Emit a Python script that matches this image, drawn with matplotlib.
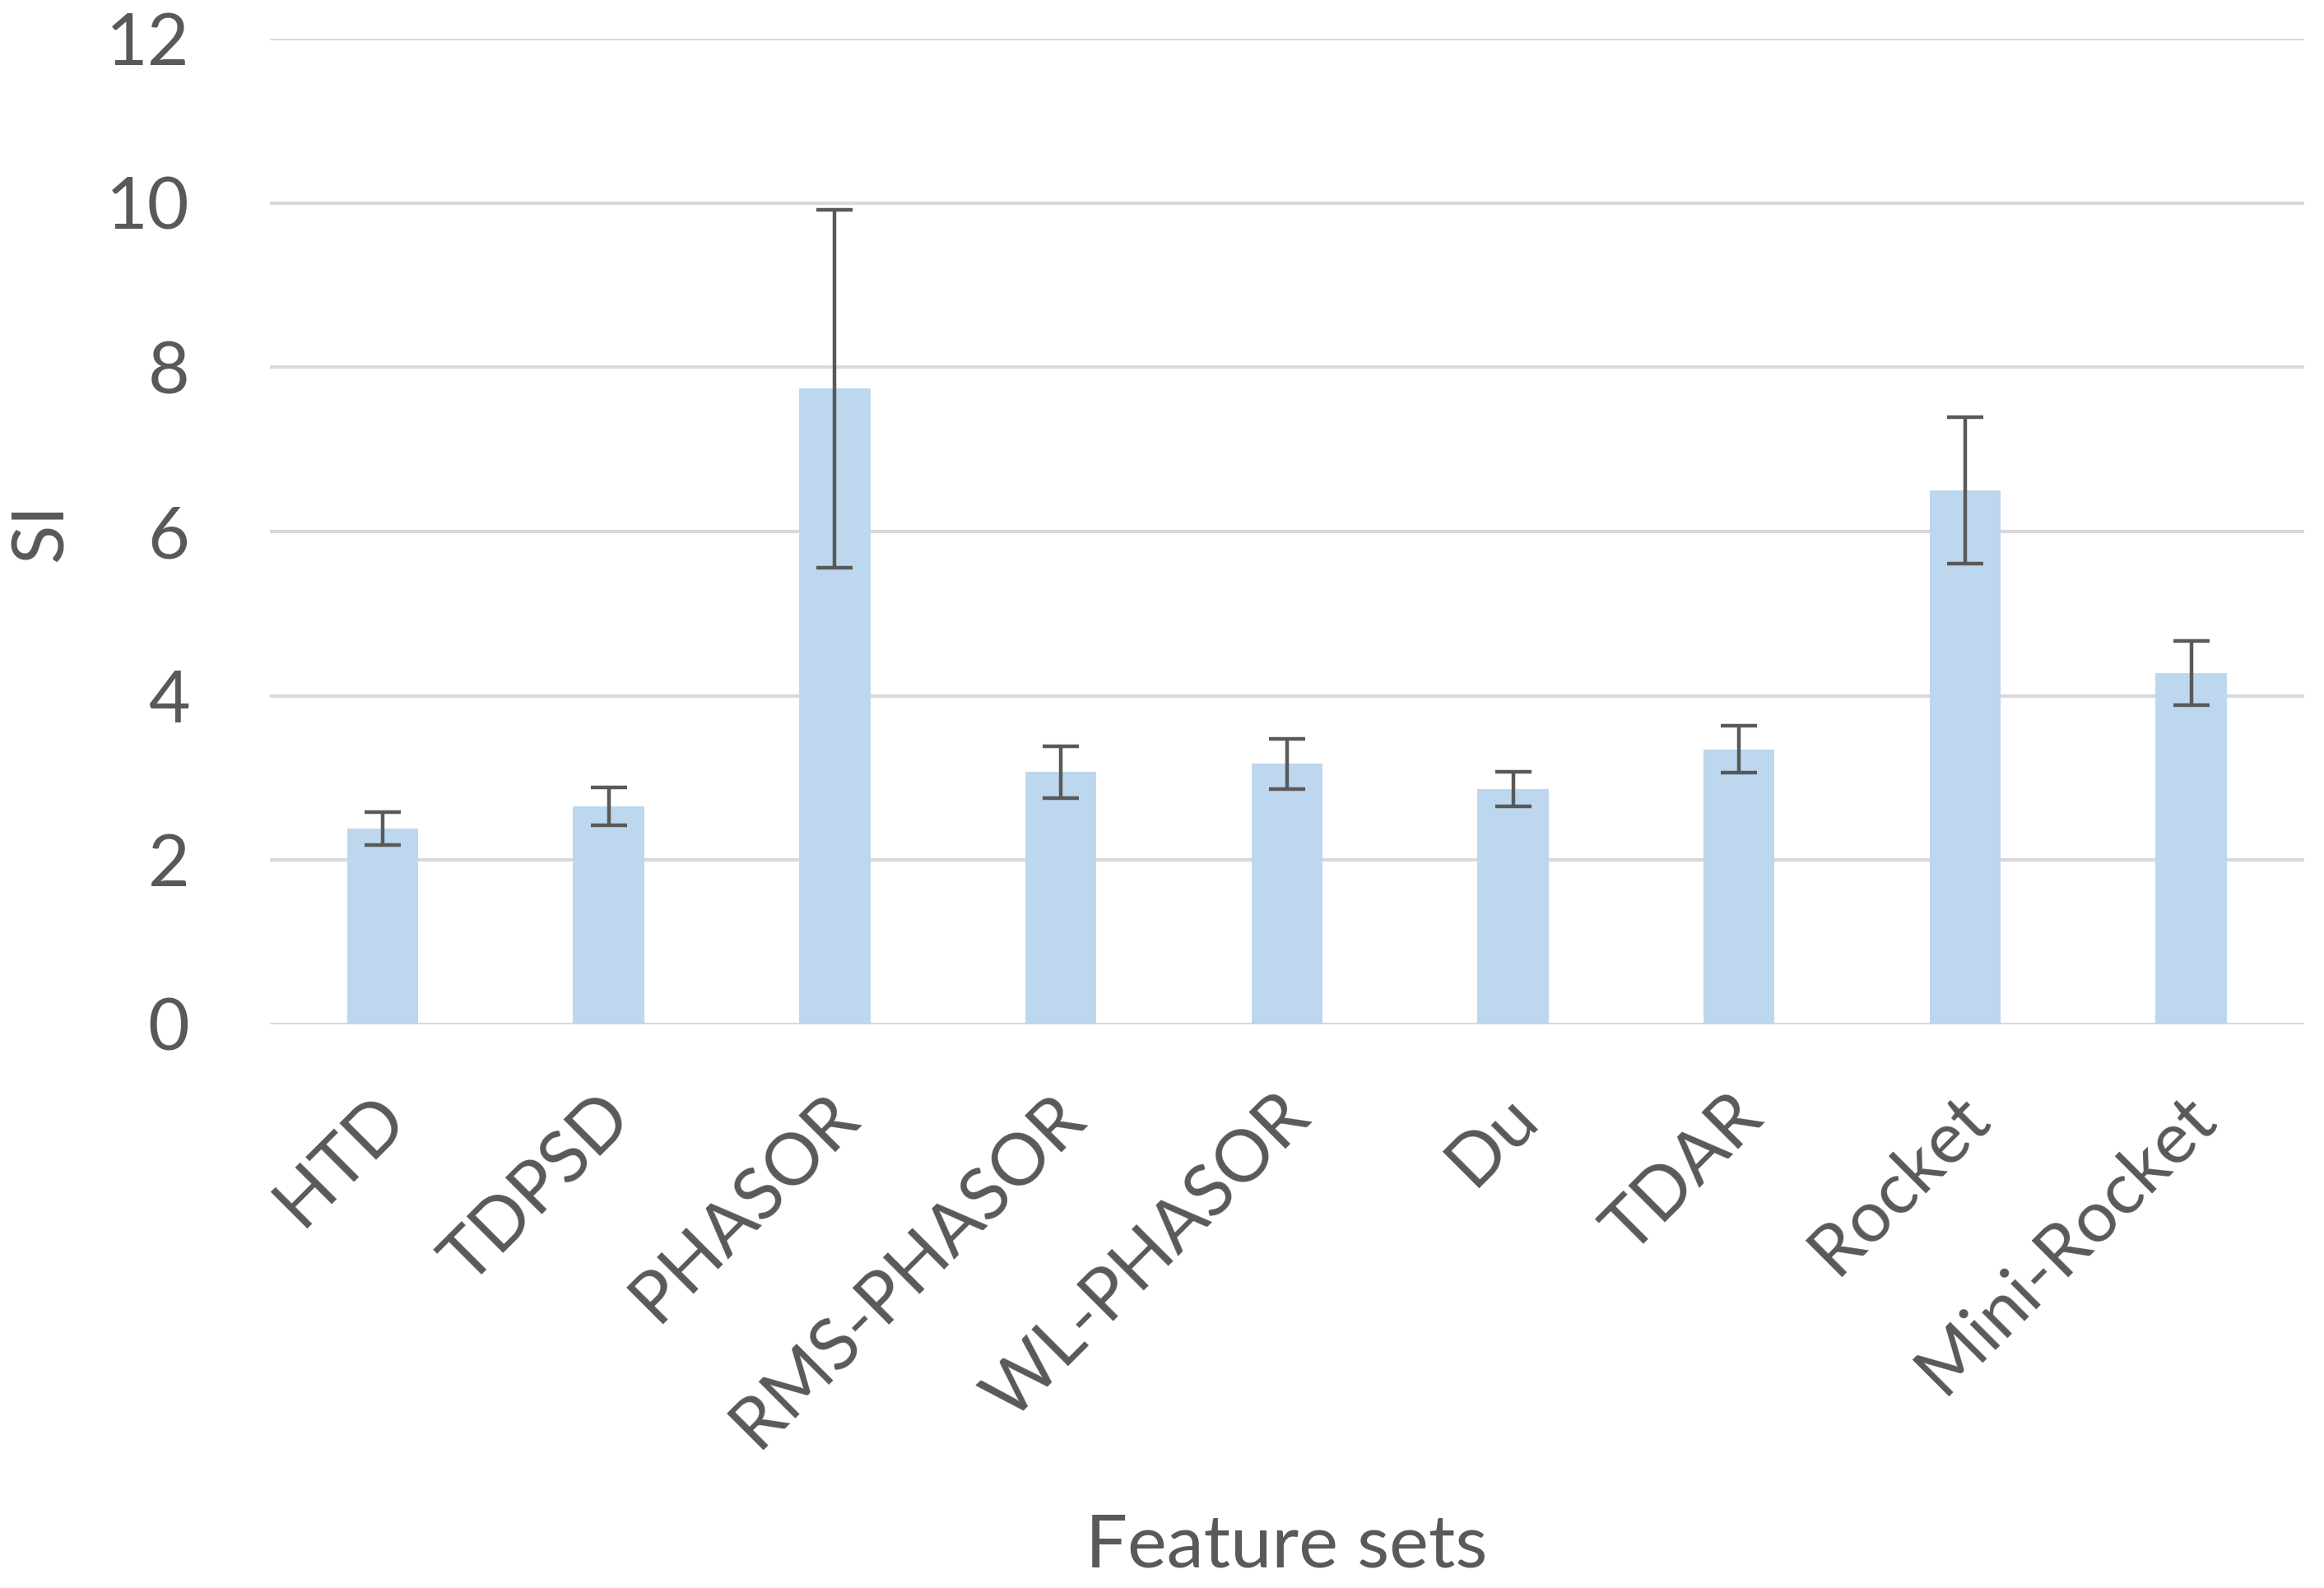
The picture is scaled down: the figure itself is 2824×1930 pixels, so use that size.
import matplotlib
matplotlib.use("Agg")
import matplotlib.pyplot as plt
import matplotlib.transforms as mtransforms
import numpy as np

# values
feature_sets = ["HTD", "TDPSD", "PHASOR", "RMS-PHASOR", "WL-PHASOR",
                "Du", "TDAR", "Rocket", "Mini-Rocket"]
si_mean = [2.38, 2.65, 7.74, 3.07, 3.17, 2.86, 3.35, 6.50, 4.28]
si_err = [0.20, 0.23, 2.18, 0.32, 0.31, 0.21, 0.29, 0.89, 0.39]
y_ticks = [0, 2, 4, 6, 8, 10, 12]

text_col = "#595959"
plt.rcParams['font.family'] = ['Lato', 'DejaVu Sans']

fig = plt.figure(figsize=(28.24, 19.30), dpi=100)
ax = fig.add_axes([0.116, 0.355, 0.8755, 0.6205])

x = np.arange(len(feature_sets))
ax.bar(x, si_mean, width=0.315, color="#BDD7EE", zorder=2)
ax.errorbar(x, si_mean, yerr=si_err, fmt="none", ecolor="#595959",
            elinewidth=3.2, capsize=16, capthick=3.2, zorder=3)

ax.set_xlim(-0.5, len(feature_sets) - 0.5)
ax.set_ylim(0, 12)
ax.set_yticks(y_ticks)
ax.set_yticklabels([str(t) for t in y_ticks])
ax.yaxis.grid(True, color="#D9D9D9", linewidth=3, zorder=0)
ax.set_axisbelow(True)
for s in ax.spines.values():
    s.set_visible(False)
ax.tick_params(axis="both", length=0, colors=text_col, labelsize=63)
ax.tick_params(axis="y", pad=70)

ax.set_xticks(x)
ax.set_xticklabels(feature_sets, rotation=45, ha="right", va="center",
                   rotation_mode="anchor")
offset = mtransforms.ScaledTranslation(0.15, -0.95, fig.dpi_scale_trans)
for lbl in ax.get_xticklabels():
    lbl.set_transform(lbl.get_transform() + offset)

fig.text(0.5535, 0.026, "Feature sets", ha="center", va="center",
         fontsize=65, color=text_col)
fig.text(0.018, 0.665, "SI", ha="center", va="center", rotation=90,
         fontsize=63, color=text_col)

fig.savefig("out.png", dpi=100)
